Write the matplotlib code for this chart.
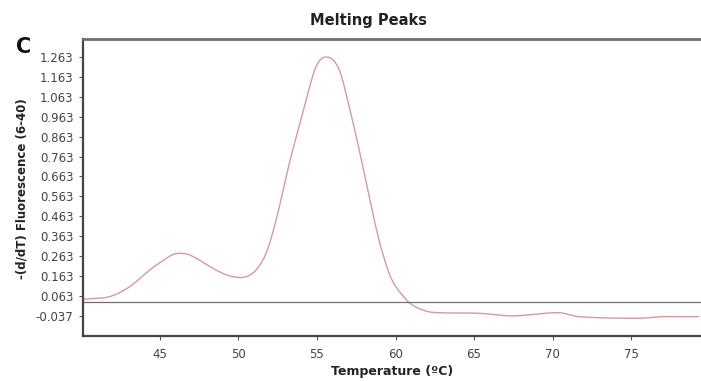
import matplotlib
matplotlib.use("Agg")
import matplotlib.pyplot as plt
import numpy as np

temperature = [40.1, 40.23, 41.81, 43.08, 44.35, 45.41, 45.94, 46.68, 47.32, 48.37, 49.22, 49.86,
               50.49, 51.13, 51.76, 52.40, 53.24, 54.09, 54.94, 55.67, 56.42, 57.05,
               57.69, 58.32, 58.95, 59.59, 60.02, 60.44, 60.86, 61.5, 62.34, 65.31, 67.42, 70.39,
               71.66, 75.47, 76.94, 78.85, 79.3]
melt_signal = [0.045, 0.047, 0.060, 0.110, 0.194, 0.252, 0.274, 0.274, 0.252, 0.202, 0.169, 0.157,
               0.160, 0.194, 0.278, 0.445, 0.729, 0.980, 1.214, 1.262, 1.198, 1.013,
               0.796, 0.562, 0.344, 0.177, 0.110, 0.068, 0.030, 0.000, -0.019, -0.024, -0.037, -0.021,
               -0.041, -0.049, -0.041, -0.041, -0.040]
threshold = 0.035
yticks = [1.263, 1.163, 1.063, 0.963, 0.863, 0.763, 0.663, 0.563, 0.463, 0.363, 0.263, 0.163, 0.063, -0.037]
ytick_labels = ["1.263", "1.163", "1.063", "0.963", "0.863", "0.763", "0.663", "0.563", "0.463",
                "0.363", "0.263", "0.163", "0.063", "-0.037"]
xticks = [45, 50, 55, 60, 65, 70, 75]

W, H = 701, 381
fig = plt.figure(figsize=(W / 100, H / 100), dpi=100)
ax = fig.add_axes([83 / W, 1 - 336 / H, 1 - 83 / W + 0.01, (336 - 39) / H])

t = np.array(temperature)
v = np.array(melt_signal)
tt = np.linspace(t[0], t[-1], 1000)

def catmull(tx, vx, q):
    out = np.empty_like(q)
    for k, x in enumerate(q):
        i = np.searchsorted(tx, x) - 1
        i = min(max(i, 0), len(tx) - 2)
        x0, x1 = tx[i], tx[i + 1]
        y0, y1 = vx[i], vx[i + 1]
        m0 = (vx[i + 1] - vx[i - 1]) / (tx[i + 1] - tx[i - 1]) if i > 0 else (y1 - y0) / (x1 - x0)
        m1 = (vx[i + 2] - vx[i]) / (tx[i + 2] - tx[i]) if i + 2 < len(tx) else (y1 - y0) / (x1 - x0)
        h = x1 - x0
        s = (x - x0) / h
        h00 = 2 * s**3 - 3 * s**2 + 1
        h10 = s**3 - 2 * s**2 + s
        h01 = -2 * s**3 + 3 * s**2
        h11 = s**3 - s**2
        out[k] = h00 * y0 + h10 * h * m0 + h01 * y1 + h11 * h * m1
    return out

ax.plot(tt, catmull(t, v, tt), color="#d49aa3", lw=1.0)
ax.axhline(threshold, color="#707070", lw=0.9)

ax.set_xlim(40.1, 79.9)
ax.set_ylim(-0.138, 1.353)
ax.set_yticks(yticks)
ax.set_yticklabels(ytick_labels)
ax.set_xticks(xticks)
ax.tick_params(axis="both", labelsize=8.5, colors="#555555", length=3, width=0.8)
ax.tick_params(axis="x", pad=6)
ax.tick_params(axis="y", pad=4)
for lab in ax.get_xticklabels() + ax.get_yticklabels():
    lab.set_color("#444444")

for s in ["left", "bottom"]:
    ax.spines[s].set_color("#444444")
    ax.spines[s].set_linewidth(1.6)
ax.spines["top"].set_color("#707070")
ax.spines["top"].set_linewidth(2.0)
ax.spines["right"].set_visible(False)

fig.text(368 / W, 1 - 21 / H, "Melting Peaks", ha="center", va="center",
         fontsize=10.5, fontweight="bold", color="#222222")
fig.text(24 / W, 1 - 47 / H, "C", ha="center", va="center",
         fontsize=15, fontweight="bold", color="#111111")
fig.text(22 / W, 1 - 189 / H, "-(d/dT) Fluorescence (6-40)", rotation=90,
         ha="center", va="center", fontsize=8.5, fontweight="bold", color="#222222")
fig.text(392 / W, 1 - 371 / H, "Temperature (ºC)", ha="center", va="center",
         fontsize=9, fontweight="bold", color="#222222")

fig.savefig("out.png", dpi=100)
